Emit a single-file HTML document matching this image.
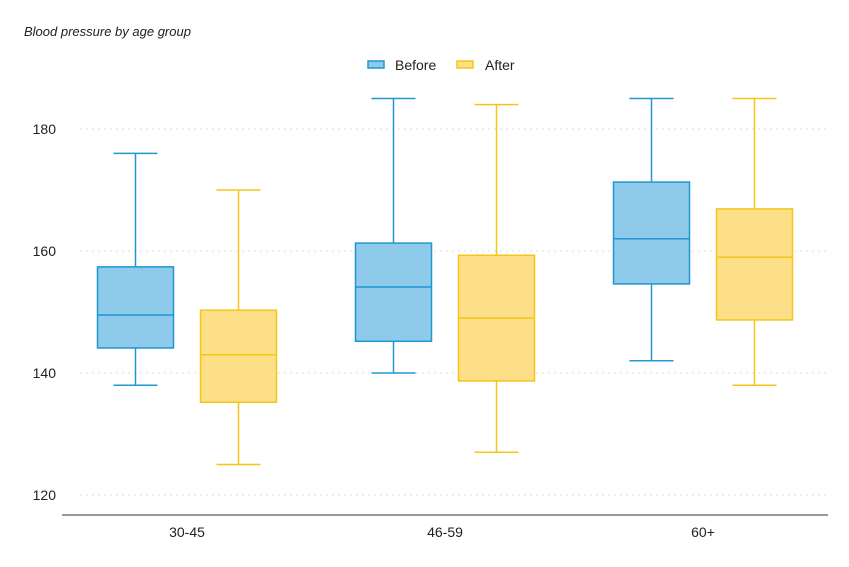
<!DOCTYPE html>
<html><head><meta charset="utf-8"><style>
body{margin:0;background:#fff;font-family:"Liberation Sans",sans-serif}
svg text{font-family:"Liberation Sans",sans-serif}
</style></head><body>
<svg id="chart" width="849" height="562" xmlns="http://www.w3.org/2000/svg">
<text x="24" y="36" font-size="13" font-style="italic" fill="#222">Blood pressure by age group</text>
<g>
<g><rect x="368" y="61" width="16" height="7" fill="#8ecae9" stroke="#2196d3" stroke-width="1.5"/><text x="395" y="70" font-size="14" fill="#222">Before</text></g>
<g><rect x="457" y="61" width="16" height="7" fill="#fddf87" stroke="#f5c518" stroke-width="1.5"/><text x="485" y="70" font-size="14" fill="#222">After</text></g>
</g>
<g id="grid"></g><g id="marks"></g><g id="axes"></g>
</svg>
<script>
const categories=["30-45","46-59","60+"];
const beforeMin=[138,140,142];
const beforeQ1=[144.1,145.2,154.6];
const beforeMed=[149.5,154.1,162];
const beforeQ3=[157.4,161.3,171.3];
const beforeMax=[176,185,185];
const afterMin=[125,127,138];
const afterQ1=[135.2,138.7,148.7];
const afterMed=[143,149,159];
const afterQ3=[150.3,159.3,166.9];
const afterMax=[170,184,185];
const yTicks=[120,140,160,180];
const NS="http://www.w3.org/2000/svg";
function y(v){return 129+(180-v)*6.1;}
function xc(i){return 187+i*258;}
function mk(tag,attrs,parent){const e=document.createElementNS(NS,tag);for(const k in attrs)e.setAttribute(k,attrs[k]);parent.appendChild(e);return e;}
const grid=document.getElementById('grid'),marks=document.getElementById('marks'),axes=document.getElementById('axes');
yTicks.forEach(t=>{
 const l=mk('line',{x1:80,x2:828,y1:y(t),y2:y(t),stroke:'#ddd','stroke-dasharray':'2,4'},grid);
 
 
 const tx=mk('text',{x:56,y:y(t)+5,'text-anchor':'end','font-size':14,fill:'#222'},axes);tx.textContent=t;
 
 
});
const ax=mk('line',{x1:62,x2:828,y1:515,y2:515,stroke:'#333','stroke-width':1},axes);


categories.forEach((c,i)=>{
 const tx=mk('text',{x:xc(i),y:537,'text-anchor':'middle','font-size':14,fill:'#222'},axes);tx.textContent=c;
 
 
});
function box(i,off,mn,q1,md,q3,mx,fill,stroke,name){
 const cx=xc(i)+off,w=76;
 const g=mk('g',{},marks);
 
 
 const a={stroke:stroke,'stroke-width':1.5,fill:'none'};
 mk('line',Object.assign({x1:cx,x2:cx,y1:y(mx),y2:y(q3)},a),g);
 mk('line',Object.assign({x1:cx,x2:cx,y1:y(q1),y2:y(mn)},a),g);
 mk('line',Object.assign({x1:cx-22,x2:cx+22,y1:y(mx),y2:y(mx)},a),g);
 mk('line',Object.assign({x1:cx-22,x2:cx+22,y1:y(mn),y2:y(mn)},a),g);
 mk('rect',{x:cx-w/2,y:y(q3),width:w,height:y(q1)-y(q3),fill:fill,stroke:stroke,'stroke-width':1.5},g);
 mk('line',Object.assign({x1:cx-w/2,x2:cx+w/2,y1:y(md),y2:y(md)},a),g);
}
categories.forEach((c,i)=>{
 box(i,-51.5,beforeMin[i],beforeQ1[i],beforeMed[i],beforeQ3[i],beforeMax[i],'#8ecae9','#2196d3','before');
 box(i,51.5,afterMin[i],afterQ1[i],afterMed[i],afterQ3[i],afterMax[i],'#fddf87','#f5c518','after');
});
</script>
</body></html>
